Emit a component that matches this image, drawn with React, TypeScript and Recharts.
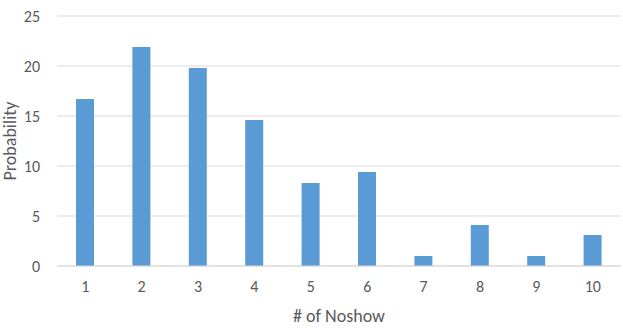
import { BarChart, Bar, XAxis, YAxis, CartesianGrid } from "recharts";

const noshowCounts = ["1", "2", "3", "4", "5", "6", "7", "8", "9", "10"];
const probabilities = [16.7, 21.9, 19.8, 14.6, 8.3, 9.4, 1.0, 4.1, 1.0, 3.1];
const yTicks = [0, 5, 10, 15, 20, 25];

const data = noshowCounts.map((n, i) => ({ n, p: probabilities[i] }));

const font = "Carlito, 'Open Sans', 'Liberation Sans', sans-serif";

export default function App() {
  return (
    <div style={{ position: "absolute", left: 0, top: 0, width: 623, height: 331, background: "#fff", fontFamily: font }}>
      <BarChart width={623} height={331} data={data} margin={{ top: 16, right: 2, left: 0, bottom: 0 }} barSize={18}>
        <CartesianGrid vertical={false} stroke="#d9d9d9" />
        <XAxis
          dataKey="n"
          height={65}
          tickLine={false}
          axisLine={{ stroke: "#d9d9d9" }}
          tickMargin={9}
          tick={{ fill: "#595959", fontSize: 16, fontFamily: font }}
          label={{ value: "# of Noshow", position: "insideBottom", offset: 9, fill: "#595959", fontSize: 18, fontFamily: font }}
        />
        <YAxis
          width={57}
          domain={[0, 25]}
          ticks={yTicks}
          tickLine={false}
          axisLine={false}
          tickMargin={11}
          tick={{ fill: "#595959", fontSize: 16, fontFamily: font }}
          label={{ value: "Probability", angle: -90, position: "insideLeft", offset: 10, fill: "#595959", fontSize: 18, fontFamily: font, style: { textAnchor: "middle" } }}
        />
        <Bar dataKey="p" fill="#5b9bd5" isAnimationActive={false} />
      </BarChart>
    </div>
  );
}
